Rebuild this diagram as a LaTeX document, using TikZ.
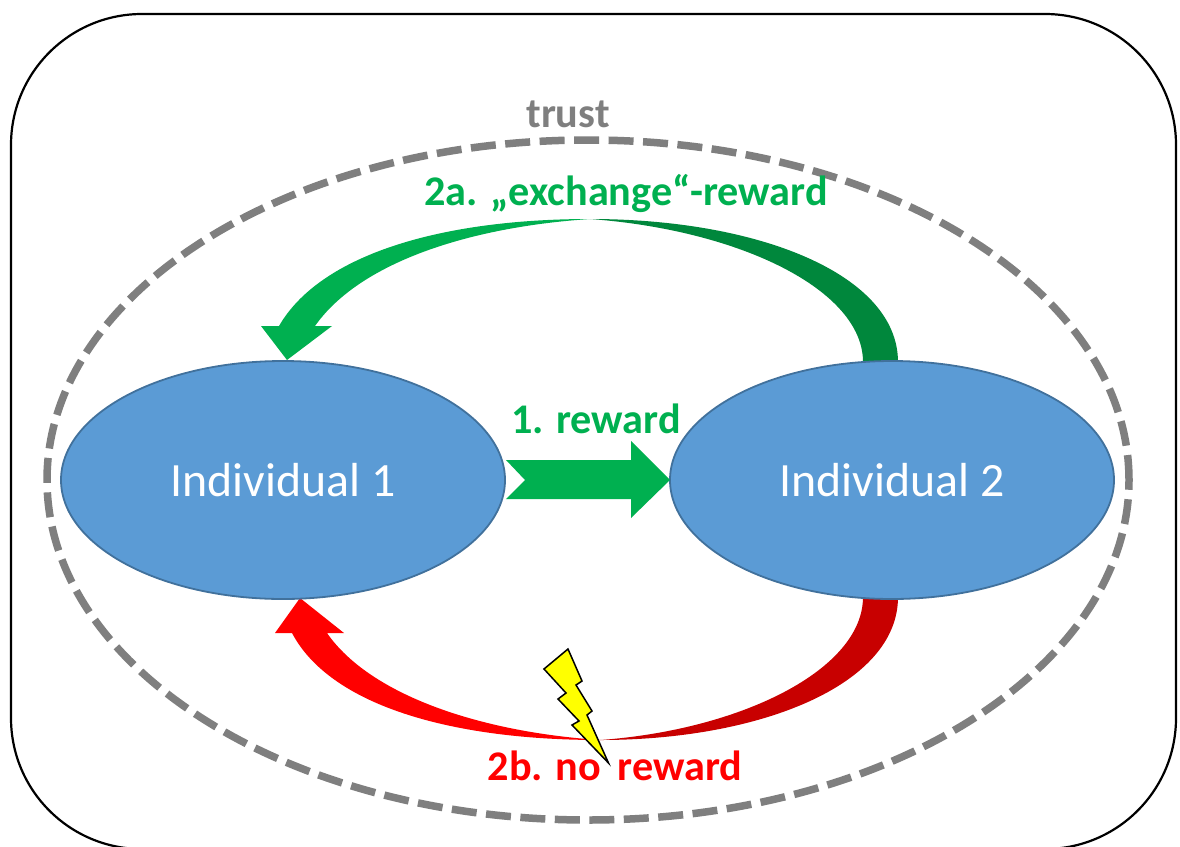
\documentclass[tikz,border=0pt]{standalone}
\usepackage{fontspec}
\setmainfont{Carlito}
\definecolor{gr}{HTML}{00B050}
\definecolor{dgr}{HTML}{00873C}
\definecolor{rd}{HTML}{FF0000}
\definecolor{drd}{HTML}{C80000}
\definecolor{blu}{HTML}{5B9BD5}
\definecolor{blb}{HTML}{41719C}
\definecolor{gy}{HTML}{7F7F7F}
\definecolor{yel}{HTML}{FFFF00}
\tikzset{
  indiv/.style={draw=blb,line width=1.8pt,fill=blu,ellipse,minimum width=444pt,minimum height=238pt,inner sep=0pt,text=white,font=\fontsize{47.8}{48}\selectfont},
  lbl/.style={font=\bfseries\fontsize{42.2}{42}\selectfont,inner sep=0pt,anchor=center},
}
\usetikzlibrary{shapes.geometric}
\begin{document}
\begin{tikzpicture}[x=1pt,y=-1pt]
\useasboundingbox (0,0) rectangle (1180,846);
\clip (0,0) rectangle (1180,846);
\fill[white] (0,0) rectangle (1180,846);
\draw[black,line width=2.2pt,rounded corners=131pt] (11,14) rectangle (1176,849);
\draw[gy,line width=7.5pt,dash pattern=on 25pt off 9.5pt] (588,480) ellipse [x radius=541pt,y radius=340pt];
% curved arrows
\fill[gr] (590,219) .. controls (440,219) and (320,255) .. (279,326) -- (261,326) -- (287,360) -- (332,326) -- (315,326) .. controls (360,262) and (470,227) .. (590,219) -- cycle;
\fill[dgr] (590,219) .. controls (760,219) and (898,275) .. (898,362) -- (863,362) .. controls (863,290) and (740,230) .. (590,219) -- cycle;
\fill[rd] (600,740) .. controls (450,740) and (330,705) .. (292,633) -- (275,633) -- (300,598) -- (344,633) -- (327,633) .. controls (370,695) and (480,732) .. (600,740) -- cycle;
\fill[drd] (600,740) .. controls (760,740) and (898,685) .. (898,597) -- (863,597) .. controls (863,670) and (740,730) .. (600,740) -- cycle;
\node[indiv] (i1) at (283,480) {Individual 1};
\node[indiv] (i2) at (892,480) {Individual 2};
\fill[gr] (506,460) -- (631,460) -- (631,441) -- (670,480) -- (631,518) -- (631,499) -- (506,499) -- (525,480) -- cycle;
\node[lbl,text=gy] (t) at (568,114) {trust};
\node[lbl,text=gr] (a) at (626,193) {2a. „exchange“-reward};
\node[lbl,text=gr] (b) at (596,419) {1. reward};
\node[lbl,text=rd] (c) at (615,766) {2b. no\, reward};
\draw[black,line width=1.5pt,fill=yel,line join=miter] (568,649) -- (582,681) -- (576,685) -- (592,711) -- (587,715) -- (608.5,763) -- (572,725) -- (579,721) -- (558,699) -- (566,693) -- (544,669) -- cycle;
\end{tikzpicture}
\end{document}
